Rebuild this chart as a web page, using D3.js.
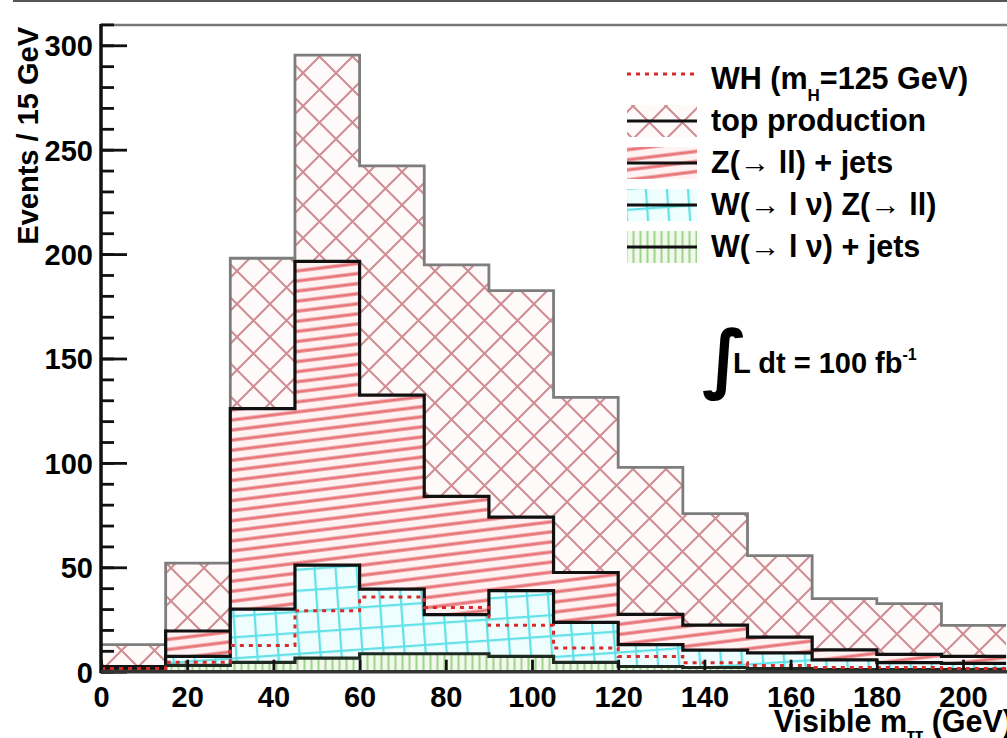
<!DOCTYPE html>
<html>
<head>
<meta charset="utf-8">
<script src="https://cdn.jsdelivr.net/npm/d3@7"></script>
<style>
  body { margin: 0; background: #fff; }
  svg { display: block; font-family: "Liberation Sans", Arial, sans-serif; font-weight: bold; }
</style>
</head>
<body>
<div id="chart"></div>
<script>
// histogram bins: lower edges (GeV), 15 GeV wide
const binEdges = [0, 15, 30, 45, 60, 75, 90, 105, 120, 135, 150, 165, 180, 195];
const binWidth = 15;

// per-sample event counts (stacked in this order, bottom first)
const wJets   = [0.5, 3, 4.5, 6.5, 8.6, 8.6, 7.3, 4.5, 2.5, 2, 1.5, 1, 1, 1];
const wzProd  = [0.5, 4.3, 25.5, 44.5, 30.9, 18.7, 31.5, 19.1, 10.5, 8.3, 7.5, 4.7, 3.3, 3];
const zJets   = [1.5, 12.2, 96, 145.5, 93, 56.7, 35.2, 23.9, 14.5, 12, 7.6, 4.8, 4, 3.3];
const topProd = [10.5, 32.5, 72, 98.8, 109.7, 110.8, 108.5, 83.9, 70.4, 53.4, 39, 24.5, 24.3, 14.9];

// signal, drawn unstacked as dotted line
const whSignal = [1.5, 4.5, 12.6, 29.2, 35.8, 30.8, 22.2, 11.3, 7.3, 4.3, 3, 2, 2, 1.5];

const xTicks = [0, 20, 40, 60, 80, 100, 120, 140, 160, 180, 200];
const yTicks = [0, 50, 100, 150, 200, 250, 300];

const width = 1007, height = 738;
const x = d3.scaleLinear().domain([0, 200]).range([101, 963]);
const y = d3.scaleLinear().domain([0, 310]).range([671.7, 24.4]);

const svg = d3.select("#chart").append("svg")
  .attr("width", width)
  .attr("height", height);

// ---- hatch patterns ----
const defs = svg.append("defs");

const pTop = defs.append("pattern").attr("id", "hTop")
  .attr("patternUnits", "userSpaceOnUse").attr("width", 33).attr("height", 33)
  .attr("x", 6).attr("y", 7);
pTop.append("rect").attr("width", 33).attr("height", 33).attr("fill", "#fffafa");
pTop.append("path").attr("d", "M-2,-2L35,35M-2,35L35,-2")
  .attr("stroke", "#cf8d93").attr("stroke-width", 2);

const pZ = defs.append("pattern").attr("id", "hZ")
  .attr("patternUnits", "userSpaceOnUse").attr("width", 10).attr("height", 10)
  .attr("patternTransform", "rotate(-7)");
pZ.append("rect").attr("width", 10).attr("height", 10).attr("fill", "#fff2f2");
pZ.append("rect").attr("y", 3.5).attr("width", 10).attr("height", 3.2).attr("fill", "#e8767a");

const pWZ = defs.append("pattern").attr("id", "hWZ")
  .attr("patternUnits", "userSpaceOnUse").attr("width", 21).attr("height", 21)
  .attr("patternTransform", "rotate(-4)");
pWZ.append("rect").attr("width", 21).attr("height", 21).attr("fill", "#eefdfd");
pWZ.append("path").attr("d", "M1,0V21M0,1H21")
  .attr("stroke", "#62e2e8").attr("stroke-width", 2.5);

const pW = defs.append("pattern").attr("id", "hW")
  .attr("patternUnits", "userSpaceOnUse").attr("width", 7).attr("height", 7);
pW.append("rect").attr("width", 7).attr("height", 7).attr("fill", "#f1f9ea");
pW.append("path").attr("d", "M3.5,0V7").attr("stroke", "#9fd48c").attr("stroke-width", 2);

// ---- stacking ----
const rows = binEdges.map((e, i) => ({
  edge: e, wjets: wJets[i], wz: wzProd[i], zjets: zJets[i], top: topProd[i]
}));
const keys = ["wjets", "wz", "zjets", "top"];
const stacked = d3.stack().keys(keys)(rows);

// step points: one per bin plus closing edge
function stepPts(vals) {
  const pts = vals.map((v, i) => [binEdges[i], v]);
  pts.push([binEdges[binEdges.length - 1] + binWidth, vals[vals.length - 1]]);
  return pts;
}

const area = d3.area().curve(d3.curveStepAfter)
  .x(d => x(d[0])).y0(y(0)).y1(d => y(d[1]));
const line = d3.line().curve(d3.curveStepAfter)
  .x(d => x(d[0])).y(d => y(d[1]));

const fills = { top: "url(#hTop)", zjets: "url(#hZ)", wz: "url(#hWZ)", wjets: "url(#hW)" };
const strokes = { top: "#7d7d7d", zjets: "#111", wz: "#111", wjets: "#1e2a22" };

// draw from largest (top of stack) down, each filled from zero
const order = ["top", "zjets", "wz", "wjets"];
order.forEach(k => {
  const s = stacked.find(d => d.key === k);
  const pts = stepPts(s.map(d => d[1]));
  svg.append("path").attr("d", area(pts)).attr("fill", "#fff");
  svg.append("path").attr("d", area(pts)).attr("fill", fills[k]);
  svg.append("path").attr("d", line(pts))
    .attr("fill", "none").attr("stroke", strokes[k]).attr("stroke-width", k === "top" ? 2.8 : 3.2);
});

// WH signal
svg.append("path").attr("d", line(stepPts(whSignal)))
  .attr("fill", "none").attr("stroke", "#d82a2a").attr("stroke-width", 3)
  .attr("stroke-dasharray", "4,5");

// ---- frame and axes ----
svg.append("line").attr("x1", 13).attr("x2", width).attr("y1", 1).attr("y2", 1)
  .attr("stroke", "#555").attr("stroke-width", 2);
svg.append("line").attr("x1", 100).attr("x2", width).attr("y1", 25).attr("y2", 25)
  .attr("stroke", "#777").attr("stroke-width", 2.5);

const yMinor = svg.append("g").attr("transform", `translate(${x(0)},0)`)
  .call(d3.axisLeft(y).tickValues(d3.range(0, 311, 10)).tickSize(-13).tickSizeOuter(0).tickFormat(""));
const yAxis = svg.append("g").attr("transform", `translate(${x(0)},0)`)
  .call(d3.axisLeft(y).tickValues(yTicks).tickSize(-26).tickSizeOuter(0).tickPadding(8));
const xAxis = svg.append("g").attr("transform", `translate(0,${y(0)})`)
  .call(d3.axisBottom(x).tickValues(xTicks).tickSize(-12).tickSizeOuter(0).tickPadding(15));

[yMinor, yAxis, xAxis].forEach(g => {
  g.selectAll(".domain").remove();
  g.selectAll(".tick line").attr("stroke", "#111").attr("stroke-width", 2.8);
  g.selectAll("text").attr("fill", "#000").attr("font-size", 29).attr("font-family", null);
});
yAxis.selectAll("text").attr("dy", "0.36em");

svg.append("line").attr("x1", x(0)).attr("x2", x(0)).attr("y1", 24).attr("y2", y(0) + 1.5)
  .attr("stroke", "#111").attr("stroke-width", 3.5);
svg.append("line").attr("x1", x(0)).attr("x2", width).attr("y1", y(0)).attr("y2", y(0))
  .attr("stroke", "#333").attr("stroke-width", 3.5);

// axis titles
svg.append("text")
  .attr("transform", "translate(38,27) rotate(-90)")
  .attr("text-anchor", "end").attr("font-size", 29)
  .text("Events / 15 GeV");

const xt = svg.append("text").attr("x", 1013).attr("y", 732)
  .attr("text-anchor", "end").attr("font-size", 30.5);
xt.append("tspan").text("Visible m");
xt.append("tspan").attr("dy", 9).attr("font-size", 18).text("ττ");
xt.append("tspan").attr("dy", -9).text(" (GeV)");

// ---- legend ----
const legendRows = [
  { key: "wh",    y: 89 },
  { key: "top",   y: 131 },
  { key: "zjets", y: 173 },
  { key: "wz",    y: 215 },
  { key: "wjets", y: 257 }
];
const lg = svg.append("g");
legendRows.forEach(r => {
  const cy = r.y - 10;
  if (r.key === "wh") {
    lg.append("line").attr("x1", 627).attr("x2", 697).attr("y1", cy - 5).attr("y2", cy - 5)
      .attr("stroke", "#d82a2a").attr("stroke-width", 3).attr("stroke-dasharray", "4,5");
  } else {
    lg.append("rect").attr("x", 627).attr("y", cy - 16).attr("width", 70).attr("height", 32)
      .attr("fill", fills[r.key]);
    lg.append("line").attr("x1", 627).attr("x2", 697).attr("y1", cy).attr("y2", cy)
      .attr("stroke", "#111").attr("stroke-width", 3);
  }
});

const fs = 30.5;
const t1 = lg.append("text").attr("x", 711).attr("y", 89).attr("font-size", fs);
t1.append("tspan").text("WH (m");
t1.append("tspan").attr("dy", 12).attr("font-size", 17).text("H");
t1.append("tspan").attr("dy", -12).text("=125 GeV)");
lg.append("text").attr("x", 711).attr("y", 131).attr("font-size", fs).text("top production");
lg.append("text").attr("x", 711).attr("y", 173).attr("font-size", fs).text("Z(→ ll) + jets");
lg.append("text").attr("x", 711).attr("y", 215).attr("font-size", fs).text("W(→ l ν) Z(→ ll)");
lg.append("text").attr("x", 711).attr("y", 257).attr("font-size", fs).text("W(→ l ν) + jets");

// luminosity label
svg.append("text").attr("x", 702).attr("y", 384).attr("font-size", 75)
  .attr("font-family", "DejaVu Sans").attr("font-weight", "bold").text("∫");
const lum = svg.append("text").attr("x", 733).attr("y", 373).attr("font-size", 29);
lum.append("tspan").text("L dt = 100 fb");
lum.append("tspan").attr("dy", -13).attr("font-size", 16).text("-1");
</script>
</body>
</html>
